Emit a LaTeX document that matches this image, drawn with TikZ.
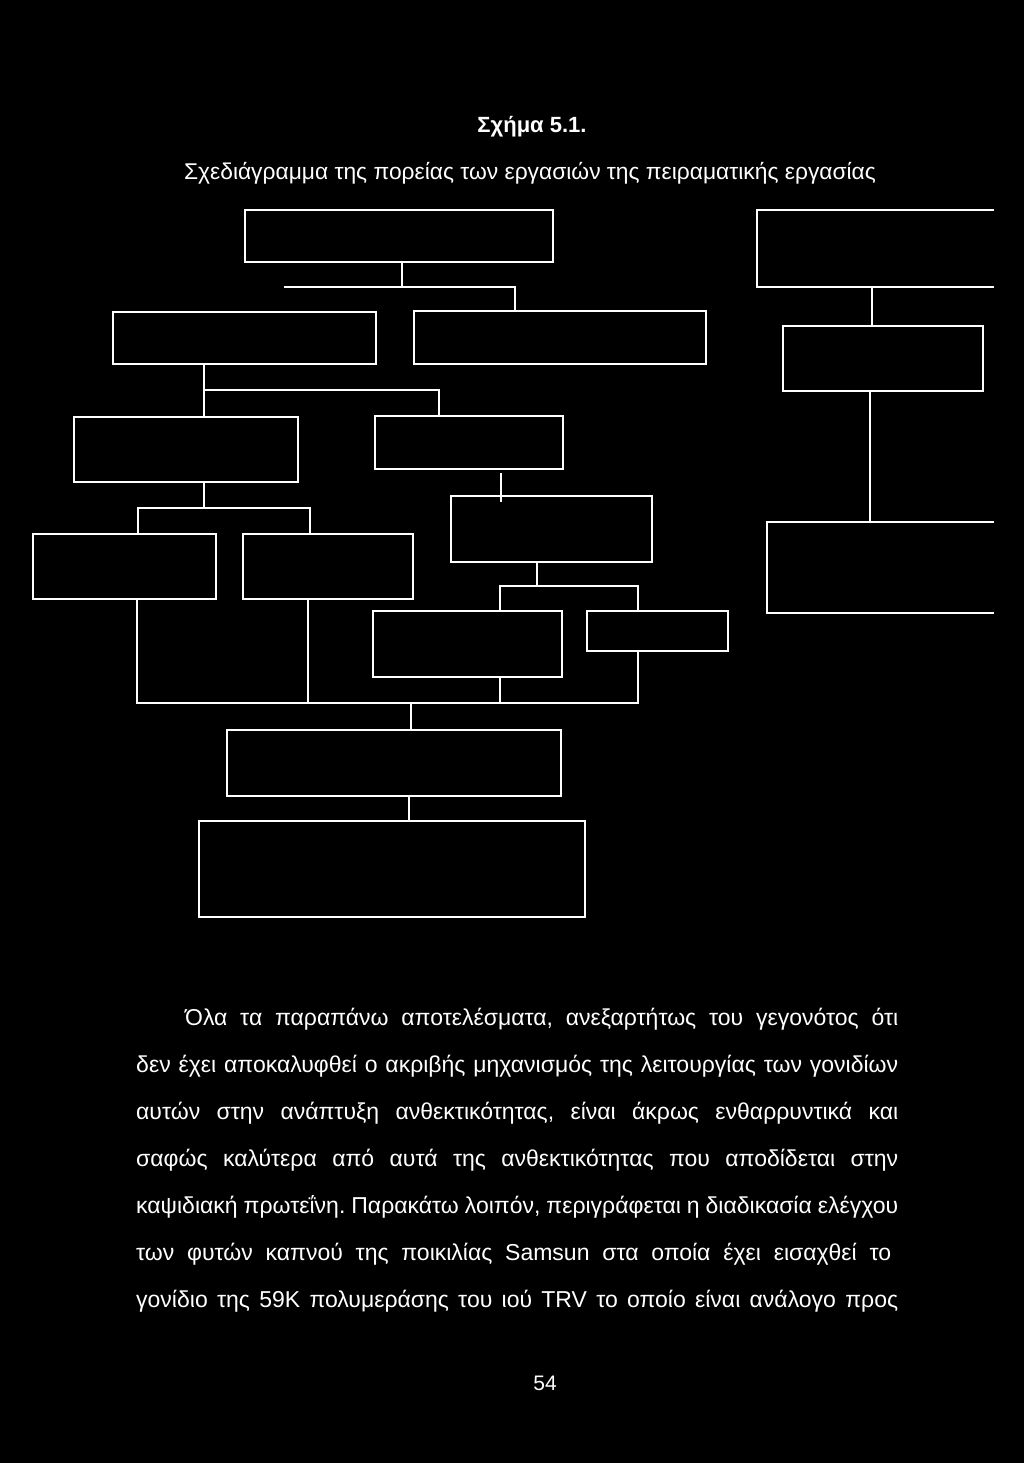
\documentclass[tikz,border=0pt]{standalone}
\usepackage{fontspec}
\setmainfont{Liberation Sans}
\frenchspacing
\begin{document}
\begin{tikzpicture}[x=1pt,y=-1pt,
  box/.style={draw=white,line width=2.4pt,inner sep=0pt,outer sep=0pt,anchor=north west},
  openbox/.style={inner sep=0pt,outer sep=0pt,anchor=north west},
  wire/.style={draw=white,line width=2.4pt},
  para/.style={anchor=base west,inner sep=0pt,text=white,font=\fontsize{23}{23}\selectfont}]
\fill[black] (0,0) rectangle (1024,1463);
\useasboundingbox (0,0) rectangle (1024,1463);
% titles
\node[text=white,font=\fontsize{22}{22}\selectfont\bfseries] (title) at (532,127) {Σχήμα 5.1.};
\node[text=white,font=\fontsize{22.8}{22.8}\selectfont] (subtitle) at (530,173) {Σχεδιάγραμμα της πορείας των εργασιών της πειραματικής εργασίας};
% boxes
\node[box,minimum width=308pt,minimum height=52pt] (A) at (245,210) {};
\node[box,minimum width=263pt,minimum height=52pt] (B) at (113,312) {};
\node[box,minimum width=292pt,minimum height=53pt] (C) at (414,311) {};
\node[box,minimum width=224pt,minimum height=65pt] (D) at (74,417) {};
\node[box,minimum width=188pt,minimum height=53pt] (C2) at (375,416) {};
\node[box,minimum width=183pt,minimum height=65pt] (F) at (33,534) {};
\node[box,minimum width=170pt,minimum height=65pt] (G) at (243,534) {};
\node[box,minimum width=201pt,minimum height=66pt] (E) at (451,496) {};
\node[box,minimum width=189pt,minimum height=66pt] (H) at (373,611) {};
\node[box,minimum width=141pt,minimum height=40pt] (I) at (587,611) {};
\node[box,minimum width=334pt,minimum height=66pt] (J) at (227,730) {};
\node[box,minimum width=386pt,minimum height=96pt] (K) at (199,821) {};
\node[openbox,minimum width=237pt,minimum height=77pt] (R1) at (757,210) {};
\node[box,minimum width=200pt,minimum height=65pt] (R2) at (783,326) {};
\node[openbox,minimum width=227pt,minimum height=91pt] (R3) at (767,522) {};
\draw[wire] (R1.north east) -- (R1.north west) -- (R1.south west) -- (R1.south east);
\draw[wire] (R3.north east) -- (R3.north west) -- (R3.south west) -- (R3.south east);
% junction coordinates
\coordinate (jA) at (402,287);
\coordinate (jAL) at (284,287);
\coordinate (jAR) at (515,287);
\coordinate (jB) at (204,390);
\coordinate (jBR) at (439,390);
\coordinate (xCE) at (501,0);
\coordinate (jD) at (204,508);
\coordinate (jDL) at (138,508);
\coordinate (jDR) at (310,508);
\coordinate (jE) at (537,586);
\coordinate (jEL) at (500,586);
\coordinate (jER) at (638,586);
\coordinate (jFL) at (137,703);
\coordinate (jG) at (308,703);
\coordinate (jH) at (500,703);
\coordinate (jI) at (638,703);
\coordinate (jJ) at (411,703);
\coordinate (xJK) at (409,0);
\coordinate (xR12) at (872,0);
\coordinate (xR23) at (870,0);
% connectors
\draw[wire] (A.south -| jA) -- (jA);
\draw[wire] (jAL) -- (jAR) -- (jAR |- C.north);
\draw[wire] (B.south -| jB) -- (D.north -| jB);
\draw[wire] (jB) -- (jBR) -- (jBR |- C2.north);
\draw[wire] ([yshift=-4pt]C2.south -| xCE) -- ([yshift=-6pt]E.north -| xCE);
\draw[wire] (D.south -| jD) -- (jD);
\draw[wire] (F.north -| jDL) -- (jDL) -- (jDR) -- (G.north -| jDR);
\draw[wire] (E.south -| jE) -- (jE);
\draw[wire] (H.north -| jEL) -- (jEL) -- (jER) -- (I.north -| jER);
\draw[wire] (F.south -| jFL) -- (jFL) -- (jI) -- (I.south -| jI);
\draw[wire] (G.south -| jG) -- (jG);
\draw[wire] (H.south -| jH) -- (jH);
\draw[wire] (jJ) -- (J.north -| jJ);
\draw[wire] (J.south -| xJK) -- (K.north -| xJK);
\draw[wire] (R1.south -| xR12) -- (R2.north -| xR12);
\draw[wire] (R2.south -| xR23) -- (R3.north -| xR23);
% paragraph
\node[para] (p1) at (185,1025) {\makebox[713pt][s]{Όλα τα παραπάνω αποτελέσματα, ανεξαρτήτως του γεγονότος ότι}};
\node[para] (p2) at (136,1072) {\makebox[762pt][s]{δεν έχει αποκαλυφθεί ο ακριβής μηχανισμός της λειτουργίας των γονιδίων}};
\node[para] (p3) at (136,1119) {\makebox[762pt][s]{αυτών στην ανάπτυξη ανθεκτικότητας, είναι άκρως ενθαρρυντικά και}};
\node[para] (p4) at (136,1166) {\makebox[762pt][s]{σαφώς καλύτερα από αυτά της ανθεκτικότητας που αποδίδεται στην}};
\node[para] (p5) at (136,1213) {\makebox[762pt][s]{καψιδιακή πρωτεΐνη. Παρακάτω λοιπόν, περιγράφεται η διαδικασία ελέγχου}};
\node[para] (p6) at (136,1260) {\makebox[755pt][s]{των φυτών καπνού της ποικιλίας Samsun στα οποία έχει εισαχθεί το}};
\node[para] (p7) at (136,1307) {\makebox[762pt][s]{γονίδιο της 59K πολυμεράσης του ιού TRV το οποίο είναι ανάλογο προς}};
\node[text=white,font=\fontsize{21}{21}\selectfont] (pg) at (545,1383) {54};
\end{tikzpicture}
\end{document}
